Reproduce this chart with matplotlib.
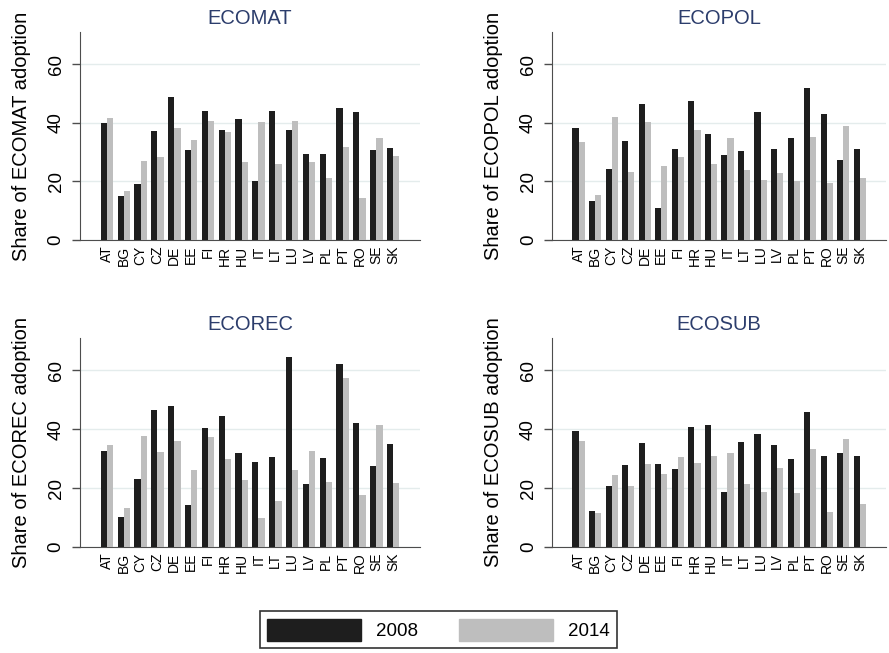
import matplotlib
matplotlib.use('Agg')
from matplotlib import pyplot as plt
from matplotlib.patches import Patch
import numpy as np

# Datos
paises = ['AT', 'BG', 'CY', 'CZ', 'DE', 'EE', 'FI', 'HR', 'HU', 'IT',
          'LT', 'LU', 'LV', 'PL', 'PT', 'RO', 'SE', 'SK']

ecomat_2008 = [40.1, 15.1, 19.0, 37.3, 48.9, 30.8, 44.0, 37.7, 41.4, 20.0,
               44.0, 37.7, 29.5, 29.3, 45.2, 43.8, 30.7, 31.4]
ecomat_2014 = [41.7, 16.7, 26.9, 28.2, 38.1, 34.0, 40.6, 36.7, 26.5, 40.3,
               25.8, 40.6, 26.6, 21.3, 31.6, 14.5, 34.8, 28.6]

ecopol_2008 = [38.3, 13.4, 24.4, 33.9, 46.3, 10.8, 31.0, 47.6, 36.1, 29.0,
               30.5, 43.8, 31.0, 34.7, 52.0, 43.1, 27.2, 31.0]
ecopol_2014 = [33.5, 15.3, 41.9, 23.1, 40.3, 25.2, 28.4, 37.5, 25.8, 34.7,
               23.9, 20.5, 22.8, 20.0, 35.0, 19.5, 38.9, 21.3]

ecorec_2008 = [32.7, 10.3, 23.0, 46.5, 48.0, 14.2, 40.3, 44.6, 32.0, 29.0,
               30.6, 64.4, 21.4, 30.2, 62.2, 42.1, 27.5, 35.1]
ecorec_2014 = [34.8, 13.4, 37.6, 32.2, 36.0, 26.3, 37.3, 29.8, 22.9, 10.0,
               15.7, 26.3, 32.6, 22.1, 57.3, 17.7, 41.3, 21.6]

ecosub_2008 = [39.3, 12.1, 20.6, 27.7, 35.3, 28.3, 26.6, 40.8, 41.6, 18.7,
               35.7, 38.3, 34.8, 29.8, 45.8, 30.9, 31.8, 30.9]
ecosub_2014 = [35.9, 11.5, 24.3, 20.7, 28.3, 24.9, 30.6, 28.7, 30.9, 32.0,
               21.5, 18.7, 27.0, 18.5, 33.2, 11.9, 36.7, 14.6]

anios = ['2008', '2014']

# Colores
negro = '#1e1e1e'
gris = '#bebebe'
azul_titulo = '#2c3d6c'

paneles = [
    ('ECOMAT', ecomat_2008, ecomat_2014, [0.090, 0.6325, 0.3825, 0.3185]),
    ('ECOPOL', ecopol_2008, ecopol_2014, [0.621, 0.6325, 0.376, 0.3185]),
    ('ECOREC', ecorec_2008, ecorec_2014, [0.090, 0.1623, 0.3825, 0.3201]),
    ('ECOSUB', ecosub_2008, ecosub_2014, [0.621, 0.1623, 0.376, 0.3201]),
]

fig = plt.figure(figsize=(8.89, 6.53), dpi=100)
plt.rcParams['font.family'] = ['Liberation Sans', 'DejaVu Sans']

x = np.arange(len(paises))
ancho = 0.37

for nombre, v08, v14, pos in paneles:
    ax = fig.add_axes(pos)
    ax.bar(x - ancho / 2, v08, width=ancho, color=negro, zorder=3)
    ax.bar(x + ancho / 2, v14, width=ancho, color=gris, zorder=3)
    ax.set_xlim(-1.6, len(paises) - 1 + 1.6)
    ax.set_ylim(0, 71)
    ax.set_yticks([0, 20, 40, 60])
    ax.set_yticklabels(['0', '20', '40', '60'], rotation=90, va='center', fontsize=13.5)
    ax.set_xticks(x)
    ax.set_xticklabels(paises, rotation=90, fontsize=10)
    ax.tick_params(axis='x', length=0, pad=4)
    ax.tick_params(axis='y', length=6, width=1, color='#4d4d4d', pad=5)
    ax.grid(axis='y', color='#e4ecec', linewidth=1, zorder=0)
    ax.spines['top'].set_visible(False)
    ax.spines['right'].set_visible(False)
    ax.spines['left'].set_color('#4d4d4d')
    ax.spines['bottom'].set_color('#4d4d4d')
    ax.set_ylabel('Share of ' + nombre + ' adoption', fontsize=14.5, labelpad=12)
    ax.set_title(nombre, color=azul_titulo, fontsize=14.5, pad=6)

# Leyenda
handles = [Patch(facecolor=negro, edgecolor=negro), Patch(facecolor=gris, edgecolor=gris)]
leg = fig.legend(handles, anios, loc='center', bbox_to_anchor=(0.493, 0.0355),
                 ncol=2, fontsize=13.5, frameon=True, fancybox=False,
                 edgecolor='black', handlelength=5.0, handleheight=1.4,
                 columnspacing=2.2, handletextpad=0.8, borderpad=0.4)
leg.get_frame().set_linewidth(1.2)

plt.savefig('out.png', dpi=100)
